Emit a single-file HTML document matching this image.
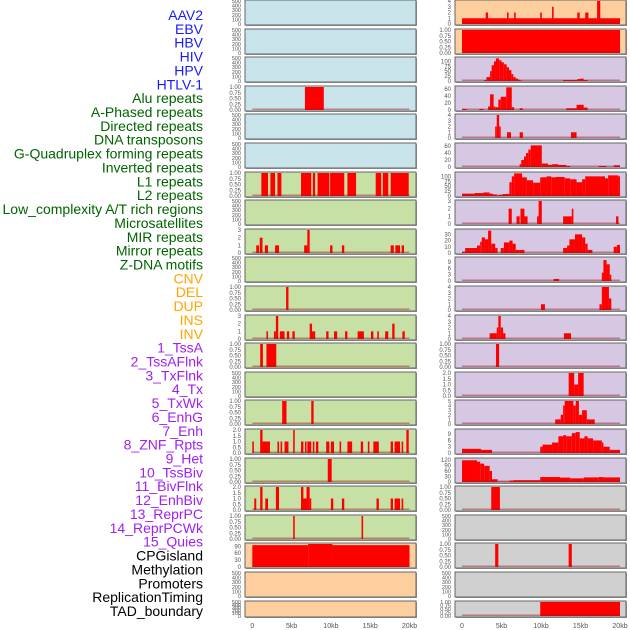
<!DOCTYPE html>
<html><head><meta charset="utf-8">
<style>
html,body{margin:0;padding:0;background:#fff;}
svg{display:block;font-family:"Liberation Sans",sans-serif;}
</style></head>
<body>
<svg id="chart" width="630" height="630" viewBox="0 0 630 630" xmlns="http://www.w3.org/2000/svg">
<g id="labels"></g>
<g id="panels"></g>
<g id="xaxes"></g>
</svg>
<script>
const labels = ["AAV2","EBV","HBV","HIV","HPV","HTLV-1","Alu repeats","A-Phased repeats","Directed repeats","DNA transposons","G-Quadruplex forming repeats","Inverted repeats","L1 repeats","L2 repeats","Low_complexity A/T rich regions","Microsatellites","MIR repeats","Mirror repeats","Z-DNA motifs","CNV","DEL","DUP","INS","INV","1_TssA","2_TssAFlnk","3_TxFlnk","4_Tx","5_TxWk","6_EnhG","7_Enh","8_ZNF_Rpts","9_Het","10_TssBiv","11_BivFlnk","12_EnhBiv","13_ReprPC","14_ReprPCWk","15_Quies","CPGisland","Methylation","Promoters","ReplicationTiming","TAD_boundary"];
const labelGroups = [6,13,5,15,5];
const xTickLabels = ["0","5kb","10kb","15kb","20kb"];
const xTickValues = [0,5,10,15,20];

const T500 = ["0","100","200","300","400","500"];
const T1 = ["0.00","0.25","0.50","0.75","1.00"];
const T2 = ["0.0","0.5","1.0","1.5","2.0"];
const T3 = ["0","1","2","3"];
const T4 = ["0","1","2","3","4"];

const leftTicks = [T500,T500,T500,T1,T500,T500,T1,T500,T3,T500,T1,T3,T1,T500,T1,T2,T1,T2,T1,["0","30","60","90"],T500,T500];
const leftYmax = [500,500,500,1,500,500,1,500,3,500,1,3,1,500,1,2,1,2,1,100,500,500];
const leftSegs = [
 [],[],[],[[6.7,9.1,1]],[],[],
 [[1.15,2.0,1],[2.3,2.9,1],[3.2,3.7,1],[6.2,7.5,1],[7.7,8.0,1],[8.3,9.8,1],[9.9,11.7,1],[12.1,13.2,1],[15.7,16.4,1],[16.6,17.3,1],[17.6,19.9,1]],
 [],
 [[0.5,0.85,1],[0.95,1.3,2],[1.6,2.0,1],[2.9,3.4,1],[6.6,7.0,1],[7.0,7.3,3],[9.9,10.2,1],[11.4,11.7,1],[17.6,18.0,1],[18.2,18.8,1],[19.0,19.3,1]],
 [],
 [[4.3,4.6,1]],
 [[1.8,2.0,1],[2.75,3.0,1],[3.0,3.3,3],[3.5,4.1,1],[4.4,4.7,1],[5.1,5.4,1],[7.3,7.6,2],[7.6,8.0,1],[9.4,9.7,1],[10.4,10.8,1],[11.8,12.1,1],[13.4,14.2,1],[15.1,15.4,1],[15.9,16.1,1],[16.9,17.3,1],[17.8,18.1,2],[19.1,19.4,1]],
 [[1.0,1.35,1],[1.8,3.05,1]],
 [],
 [[3.8,4.35,1],[7.5,7.8,1]],
 [[0,0.2,1],[1.0,1.3,2],[1.3,2.25,1],[3.2,3.4,1],[3.6,3.8,1],[4.1,4.6,1],[5.2,5.4,2],[6.2,6.5,1],[6.7,6.9,1],[7.0,7.5,1],[7.7,7.9,1],[8.1,8.4,1],[9.4,9.8,1],[10.0,10.4,1],[11.1,11.3,1],[12.1,12.7,1],[13.8,14.1,1],[14.7,14.9,1],[15.4,16.1,1],[17.6,17.9,1],[18.1,18.8,1],[19.0,19.2,1],[19.6,19.9,2]],
 [[9.6,10.1,1]],
 [[0.25,0.5,1],[1.0,1.3,2],[1.65,2.0,1],[3.0,3.4,2],[6.2,6.9,1],[6.2,6.5,2],[6.9,7.3,2],[7.3,7.5,1],[10.0,10.3,1],[11.4,11.7,1],[15.8,16.1,1],[17.6,17.9,1],[18.1,18.8,1],[19.0,19.2,1]],
 [[5.2,5.4,1],[13.9,14.1,1]],
 [[0,7.1,95],[7.1,10.2,100],[10.2,20,95]],
 [],[]
];
const leftBg = ["#c8e3ea","#c8e3ea","#c8e3ea","#c8e3ea","#c8e3ea","#c8e3ea","#c6e0a6","#c6e0a6","#c6e0a6","#c6e0a6","#c6e0a6","#c6e0a6","#c6e0a6","#c6e0a6","#c6e0a6","#c6e0a6","#c6e0a6","#c6e0a6","#c6e0a6","#fdcf9f","#fdcf9f","#fdcf9f"];

const rightTicks = [T4,T1,["0","25","50","75","100"],["0","20","40","60"],T4,["0","20","40","60"],["0","25","50","75","100"],T3,["0","10","20","30"],["0","3","6","9"],T4,T4,T1,T2,["0","1","2","3","4","5"],["0","3","6","9"],["0","30","60","90","120"],T1,T500,T1,T500,T1];
const rightYmax = [4,1,117,66,4,66,117,3,37,11,4,4,1,2,5,11,125,1,500,1,500,1];
const rightSegs = [
 [[0,20,1],[3.0,3.3,2],[5.7,5.9,2],[6.6,6.8,2],[9.9,10.1,2],[11.4,11.6,3],[14.6,14.9,2],[15.6,16.0,2],[17.1,17.5,4]],
 [[0,20,1]],
 [[2.8,3.1,5],[3.1,3.55,20],[3.55,3.75,50],[3.75,4.05,80],[4.05,4.3,100],[4.3,4.7,115],[4.7,5.0,105],[5.0,5.3,95],[5.3,5.65,85],[5.65,5.95,70],[5.95,6.25,55],[6.25,6.5,35],[6.5,6.8,20],[6.8,7.1,12],[7.1,7.3,7],[7.3,7.6,3],[12.8,14.6,5],[14.6,14.9,10],[14.9,15.4,12],[15.4,15.9,5]],
 [[0,0.6,3],[2.2,2.7,3],[3.3,3.55,10],[3.55,4.0,45],[4.0,4.2,10],[4.2,4.6,8],[4.6,4.9,30],[4.9,5.6,38],[5.6,6.3,65],[6.3,6.6,8],[7.3,7.7,5],[13.2,14.5,5],[14.5,15.4,15],[15.4,15.9,7]],
 [[4.2,4.4,2],[4.4,4.7,4],[4.7,4.9,2],[5.7,6.2,1],[7.3,7.7,1],[13.8,14.5,1]],
 [[7.3,7.5,8],[7.5,7.85,20],[7.85,8.1,30],[8.1,8.4,40],[8.4,8.7,50],[8.7,10.1,62],[10.1,10.9,10],[10.9,11.4,6],[11.4,12.2,8],[12.2,13.2,6],[13.2,13.7,3],[17.3,18.3,3],[19.2,20,5]],
 [[0,1.6,12],[1.6,2.7,15],[2.7,3.5,18],[3.5,3.9,12],[3.9,4.4,8],[4.4,4.6,2],[4.6,5.1,5],[5.1,6.0,10],[6.0,6.3,70],[6.3,6.6,100],[6.6,7.6,115],[7.6,8.2,95],[8.2,9.0,80],[9.0,9.9,68],[9.9,10.7,95],[10.7,11.3,100],[11.3,11.9,95],[11.9,13.0,97],[13.0,13.7,90],[13.7,14.5,85],[14.5,15.2,70],[15.2,15.6,85],[15.6,16.2,100],[16.2,18.1,100],[18.1,18.5,90],[18.5,19.8,105],[19.8,20,100]],
 [[5.9,6.3,2],[6.9,7.3,1],[7.4,7.9,2],[7.9,8.3,1],[9.5,9.7,1],[9.7,10.1,3],[12.8,13.9,1],[13.9,14.1,2],[19.5,19.8,1]],
 [[0,0.4,2],[0.4,1.9,8],[1.9,2.3,12],[2.3,2.5,18],[2.5,2.9,25],[2.9,3.3,22],[3.3,3.7,36],[3.7,4.2,15],[4.2,4.5,8],[4.9,5.3,8],[5.3,6.0,17],[6.0,6.4,20],[6.4,6.8,15],[6.8,7.3,5],[7.3,7.9,5],[12.8,13.3,8],[13.3,13.6,12],[13.6,14.3,22],[14.3,15.2,30],[15.2,15.6,25],[15.6,15.9,15],[15.9,16.5,5],[19.2,19.6,10],[19.6,20,13]],
 [[11.6,12.3,1],[17.7,17.9,4],[17.9,18.3,10],[18.3,18.7,8],[18.7,18.9,3]],
 [[10.0,10.5,1],[17.4,17.7,1],[17.7,18.6,4],[18.6,18.9,2]],
 [[3.5,4.4,1],[4.4,4.6,2],[4.6,4.9,4],[4.9,5.2,2],[5.2,5.5,1],[12.9,13.8,1]],
 [[4.3,4.7,1]],
 [[13.5,14.2,2],[14.2,14.7,1],[14.7,15.4,2]],
 [[11.8,12.5,1],[12.5,12.8,2],[12.8,13.0,4],[13.0,14.1,5],[14.1,14.4,4],[14.4,14.8,5],[14.8,15.2,2],[15.2,15.8,3],[15.8,16.8,1]],
 [[0,2.4,2],[2.4,3.8,1.5],[9.9,10.2,3],[10.2,11.4,4],[11.4,12.2,5],[12.2,12.8,8],[12.8,13.2,8.5],[13.2,13.9,8],[13.9,14.4,9.5],[14.4,14.9,10],[14.9,15.5,7],[15.5,15.9,8],[15.9,16.6,7],[16.6,17.7,6],[17.7,17.9,5],[17.9,18.7,3],[18.7,20,1.5]],
 [[0,1.9,118],[1.9,2.3,110],[2.3,2.8,100],[2.8,3.5,88],[3.5,3.8,60],[3.8,4.5,15],[4.5,6.0,2],[6.0,6.5,8],[6.5,9.9,10],[9.9,12.4,27],[12.4,13.7,24],[13.7,15.4,20],[15.4,17.3,25],[17.3,17.9,27],[17.9,20,25]],
 [[3.7,4.8,1]],
 [],
 [[4.2,4.6,1],[13.5,13.9,1]],
 [],
 [[9.9,20,1]]
];
const rightBg = ["#fdcf9f","#fdcf9f","#d6c7e3","#d6c7e3","#d6c7e3","#d6c7e3","#d6c7e3","#d6c7e3","#d6c7e3","#d6c7e3","#d6c7e3","#d6c7e3","#d6c7e3","#d6c7e3","#d6c7e3","#d6c7e3","#d6c7e3","#d0d0d0","#d0d0d0","#d0d0d0","#d0d0d0","#d0d0d0"];

const NS = "http://www.w3.org/2000/svg";
function mk(tag, attrs, parent){const e=document.createElementNS(NS,tag);for(const k in attrs)e.setAttribute(k,attrs[k]);parent.appendChild(e);return e;}

// labels
const groupColors=["#1a1aff","#006400","#ffa500","#a020f0","#000000"];
const gl=document.getElementById('labels');
let gi=0,gc=0;
labels.forEach((t,i)=>{
  const el=mk('text',{x:203,y:(20+i*13.86).toFixed(1),'text-anchor':'end','font-size':14,fill:groupColors[gi]},gl);
  
  
  el.textContent=t;
  gc++; if(gc>=labelGroups[gi]){gi++;gc=0;}
});

const rowTops=[];for(let i=0;i<22;i++)rowTops.push(Math.round(i*28.6));
function panelH(i){return i===21?16:25;}

function drawColumn(px,x0kb,pxPerKb,ticks,ymaxs,segs,bgs,side){
  const gp=document.getElementById('panels');
  const w=171;
  for(let i=0;i<22;i++){
    const top=rowTops[i]+ (i===0?0:0), h=panelH(i);
    const g=mk('g',{},gp);
    
    
    mk('rect',{x:px+1,y:top+1,width:w,height:h,fill:'#999'},g);
    const bg=mk('rect',{x:px,y:top,width:w,height:h,fill:bgs[i],stroke:'#666','stroke-width':1},g);
    
    
    const bottom=top+h-1, ph=h-2;
    const ymax=ymaxs[i];
    const ys=v=>bottom-v/ymax*ph;
    const xs=k=>x0kb+k*pxPerKb;
    // ticks
    const tk=ticks[i], n=tk.length;
    tk.forEach((t,j)=>{
      const v=parseFloat(t);
      const step=(ymax===parseFloat(tk[n-1]))?0:0;
      const el=mk('text',{x:px-4,y:(ys(v)+2).toFixed(1),'text-anchor':'end','font-size':(n>5||h<20)?5.5:6,fill:'#555'},g);
      
      
      el.textContent=t;
    });
    const s=segs[i];
    if(s.length){
      s.forEach(sg=>{
        const r=mk('rect',{x:xs(sg[0]).toFixed(2),y:ys(sg[2]).toFixed(2),width:Math.max(1,(sg[1]-sg[0])*pxPerKb).toFixed(2),height:(bottom-ys(sg[2])).toFixed(2),fill:'#ff0000'},g);
        
        
      });
      const bl=mk('rect',{x:xs(0),y:bottom-1.5,width:20*pxPerKb,height:1.5,fill:'rgba(160,20,20,0.45)'},g);
      
      
    }
  }
  // x axis
  const gx=document.getElementById('xaxes');
  xTickValues.forEach((v,j)=>{
    const el=mk('text',{x:x0kb+v*pxPerKb,y:628,'text-anchor':'middle','font-size':7,fill:'#555'},gx);
    
    
    el.textContent=xTickLabels[j];
  });
}
drawColumn(245,252.3,7.86,leftTicks,leftYmax,leftSegs,leftBg,'left');
drawColumn(455,462,7.9,rightTicks,rightYmax,rightSegs,rightBg,'right');
</script>
</body></html>
